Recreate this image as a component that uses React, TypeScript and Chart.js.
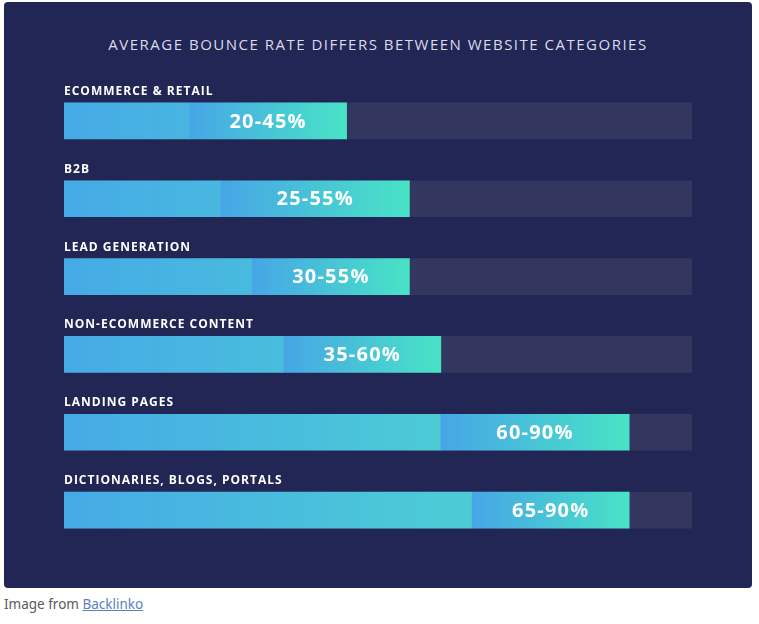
import React, { useEffect, useRef } from 'react';
import { Chart, registerables } from 'chart.js';

Chart.register(...registerables);

const categories = [
  'ECOMMERCE & RETAIL',
  'B2B',
  'LEAD GENERATION',
  'NON-ECOMMERCE CONTENT',
  'LANDING PAGES',
  'DICTIONARIES, BLOGS, PORTALS',
];
const lowValues = [20, 25, 30, 35, 60, 65];
const highValues = [45, 55, 55, 60, 90, 90];
const trackMax = 100;

const TITLE = 'AVERAGE BOUNCE RATE DIFFERS BETWEEN WEBSITE CATEGORIES';

const labelPlugin = {
  id: 'barLabels',
  afterDatasetsDraw(chart: any) {
    const { ctx, chartArea, scales } = chart;
    const meta = chart.getDatasetMeta(0);
    ctx.save();
    ctx.fillStyle = '#ffffff';
    ctx.textBaseline = 'alphabetic';

    // category names above each bar
    ctx.font = 'bold 12px "Open Sans", sans-serif';
    ctx.letterSpacing = '1px';
    ctx.textAlign = 'left';
    categories.forEach((c, i) => {
      const y = scales.y.getPixelForValue(i);
      ctx.fillText(c, chartArea.left, y - 18 - 8);
    });

    // range text centred in the upper segment
    ctx.font = 'bold 20px "Open Sans", sans-serif';
    ctx.letterSpacing = '1.2px';
    ctx.textAlign = 'center';
    ctx.textBaseline = 'middle';
    meta.data.forEach((el: any, i: number) => {
      const cx = (el.x + el.base) / 2;
      ctx.fillText(`${lowValues[i]}-${highValues[i]}%`, cx, el.y + 1);
    });
    ctx.restore();
  },
};

function gradient(chart: any, from: number, to: number, c0: string, c1: string) {
  const x = chart.scales.x;
  if (!x || !chart.chartArea) return c0;
  const g = chart.ctx.createLinearGradient(x.getPixelForValue(from), 0, x.getPixelForValue(to), 0);
  g.addColorStop(0, c0);
  g.addColorStop(1, c1);
  return g;
}

const App: React.FC = () => {
  const canvasRef = useRef<HTMLCanvasElement>(null);
  const chartRef = useRef<Chart | null>(null);

  useEffect(() => {
    if (!canvasRef.current) return;
    if (chartRef.current) chartRef.current.destroy();
    const ctx = canvasRef.current.getContext('2d');
    if (!ctx) return;

    chartRef.current = new Chart(ctx, {
      type: 'bar',
      data: {
        labels: categories,
        datasets: [
          {
            label: 'high',
            data: lowValues.map((v, i) => [v, highValues[i]]),
            backgroundColor: (c: any) =>
              gradient(c.chart, lowValues[c.dataIndex], highValues[c.dataIndex], '#47a6e6', '#48e3c6'),
            order: 1,
          },
          {
            label: 'low',
            data: lowValues.map((v) => [0, v]),
            backgroundColor: (c: any) => gradient(c.chart, 0, 60, '#45aae6', '#4ccbd6'),
            order: 2,
          },
          {
            label: 'track',
            data: categories.map(() => [0, trackMax]),
            backgroundColor: '#333760',
            order: 3,
          },
        ] as any,
      },
      options: {
        indexAxis: 'y',
        responsive: true,
        maintainAspectRatio: false,
        animation: false,
        layout: { padding: { left: 60, right: 60, top: 80, bottom: 39 } },
        datasets: { bar: { grouped: false, barThickness: 36, borderWidth: 0 } },
        plugins: {
          legend: { display: false },
          tooltip: { enabled: false },
          title: { display: false },
        },
        scales: {
          x: { display: false, min: 0, max: 100 },
          y: { display: false },
        },
      } as any,
      plugins: [labelPlugin],
    });

    return () => {
      if (chartRef.current) {
        chartRef.current.destroy();
        chartRef.current = null;
      }
    };
  }, []);

  return (
    <div style={{ position: 'absolute', left: 0, top: 0, width: 759, height: 624, background: '#fff' }}>
      <div
        style={{
          position: 'absolute',
          left: 4,
          top: 2,
          width: 748,
          height: 586,
          background: '#212655',
          borderRadius: 4,
        }}
      >
        <div
          style={{
            position: 'absolute',
            left: 0,
            top: 32,
            width: '100%',
            textAlign: 'center',
            color: '#dadcea',
            font: '15px "Open Sans", sans-serif',
            letterSpacing: '1.5px',
            lineHeight: '20px',
          }}
        >
          {TITLE}
        </div>
        <div style={{ position: 'absolute', left: 0, top: 0, width: 748, height: 586 }}>
          <canvas ref={canvasRef}></canvas>
        </div>
      </div>
      <div
        style={{
          position: 'absolute',
          left: 4,
          top: 595,
          font: '13.5px "Noto Sans", sans-serif',
          color: '#5a5a5a',
        }}
      >
        Image from{' '}
        <a href="#" style={{ color: '#5b7fc4', textDecoration: 'underline' }}>
          Backlinko
        </a>
      </div>
    </div>
  );
};

export default App;
